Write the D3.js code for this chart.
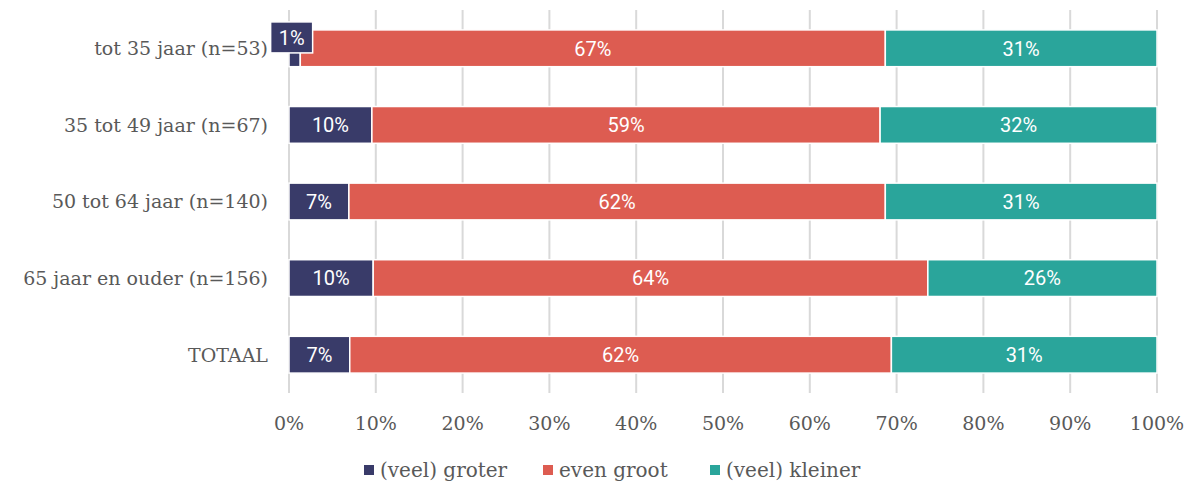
<!DOCTYPE html>
<html>
<head>
<meta charset="utf-8">
<script src="https://cdn.jsdelivr.net/npm/d3@7"></script>
<style>
  body { margin: 0; background: #fff; }
  svg text { font-family: "DejaVu Serif", serif; }
</style>
</head>
<body>
<div id="chart"></div>
<script>
var categories = ["tot 35 jaar (n=53)", "35 tot 49 jaar (n=67)", "50 tot 64 jaar (n=140)", "65 jaar en ouder (n=156)", "TOTAAL"];
var seriesNames = ["(veel) groter", "even groot", "(veel) kleiner"];
var groter = [1.3, 9.55, 6.9, 9.7, 7.0];
var evenGroot = [67.4, 58.55, 61.8, 63.9, 62.4];
var kleiner = [31.3, 31.9, 31.3, 26.4, 30.6];
var ticks = [0, 10, 20, 30, 40, 50, 60, 70, 80, 90, 100];
var colors = ["#393b69", "#dd5c51", "#2aa59b"];

var margin = {top: 10, right: 32, bottom: 91, left: 289},
    width = 1189 - margin.left - margin.right,
    height = 484 - margin.top - margin.bottom;

var svg = d3.select("#chart").append("svg")
    .attr("width", 1189)
    .attr("height", 484)
    .append("g")
    .attr("transform", "translate(" + margin.left + "," + margin.top + ")");

var x = d3.scaleLinear().domain([0, 100]).range([0, width]);
var y = d3.scaleBand().domain(categories).range([0, height]).paddingInner(0.52).paddingOuter(0.26);

var rows = categories.map(function(c, i) {
    return {cat: c, groter: groter[i], even: evenGroot[i], kleiner: kleiner[i]};
});
var stack = d3.stack().keys(["groter", "even", "kleiner"]);
var stacked = stack(rows);

// grid
svg.append("g").selectAll("line")
    .data(ticks)
    .enter().append("line")
    .attr("x1", d => x(d)).attr("x2", d => x(d))
    .attr("y1", 0).attr("y2", height)
    .attr("stroke", "#d9d9d9")
    .attr("stroke-width", 2);

var layers = svg.selectAll(".layer")
    .data(stacked)
    .enter().append("g")
    .attr("class", "layer")
    .attr("fill", (d, i) => colors[i]);

layers.selectAll("rect")
    .data(d => d)
    .enter().append("rect")
    .attr("x", d => x(d[0]))
    .attr("y", d => y(d.data.cat))
    .attr("width", d => x(d[1]) - x(d[0]))
    .attr("height", y.bandwidth())
    .attr("stroke", "#fff")
    .attr("stroke-width", 1.5);

// value labels
stacked.forEach(function(layer, li) {
    layer.forEach(function(d) {
        var v = d[1] - d[0];
        var txt = Math.round(v) + "%";
        var cx = x((d[0] + d[1]) / 2);
        var cy = y(d.data.cat) + y.bandwidth() / 2;
        if (v < 3) {
            // small segment: callout box
            var bw = 42, bh = 31;
            var bx = cx - bw / 2 - 3, by = y(d.data.cat) - 8;
            svg.append("rect")
                .attr("x", bx).attr("y", by)
                .attr("width", bw).attr("height", bh)
                .attr("fill", colors[li])
                .attr("stroke", "#fff")
                .attr("stroke-width", 1.5);
            cx = bx + bw / 2;
            cy = by + bh / 2;
        }
        svg.append("text")
            .attr("x", cx).attr("y", cy)
            .attr("dy", "0.36em")
            .attr("text-anchor", "middle")
            .style("font-family", "Roboto, sans-serif")
            .style("font-size", "20px")
            .attr("fill", "#fff")
            .text(txt);
    });
});

// category labels
svg.append("g").selectAll("text")
    .data(categories)
    .enter().append("text")
    .attr("x", -21)
    .attr("y", d => y(d) + y.bandwidth() / 2)
    .attr("dy", "0.36em")
    .attr("text-anchor", "end")
    .style("font-size", "19px")
    .attr("fill", "#595959")
    .text(d => d);

// x tick labels
svg.append("g").selectAll("text")
    .data(ticks)
    .enter().append("text")
    .attr("x", d => x(d))
    .attr("y", height + 30)
    .attr("dy", "0.36em")
    .attr("text-anchor", "middle")
    .style("font-size", "19px")
    .attr("fill", "#595959")
    .text(d => d + "%");

// legend
var legend = svg.append("g").attr("transform", "translate(0," + (height + 77) + ")");
var legX = [75, 254, 421];
seriesNames.forEach(function(s, i) {
    var g = legend.append("g").attr("transform", "translate(" + legX[i] + ",0)");
    g.append("rect").attr("x", 0).attr("y", -5).attr("width", 10).attr("height", 10).attr("fill", colors[i]);
    g.append("text").attr("x", 16).attr("y", 0).attr("dy", "0.36em")
        .style("font-size", "20px").attr("fill", "#595959").text(s);
});
</script>
</body>
</html>
